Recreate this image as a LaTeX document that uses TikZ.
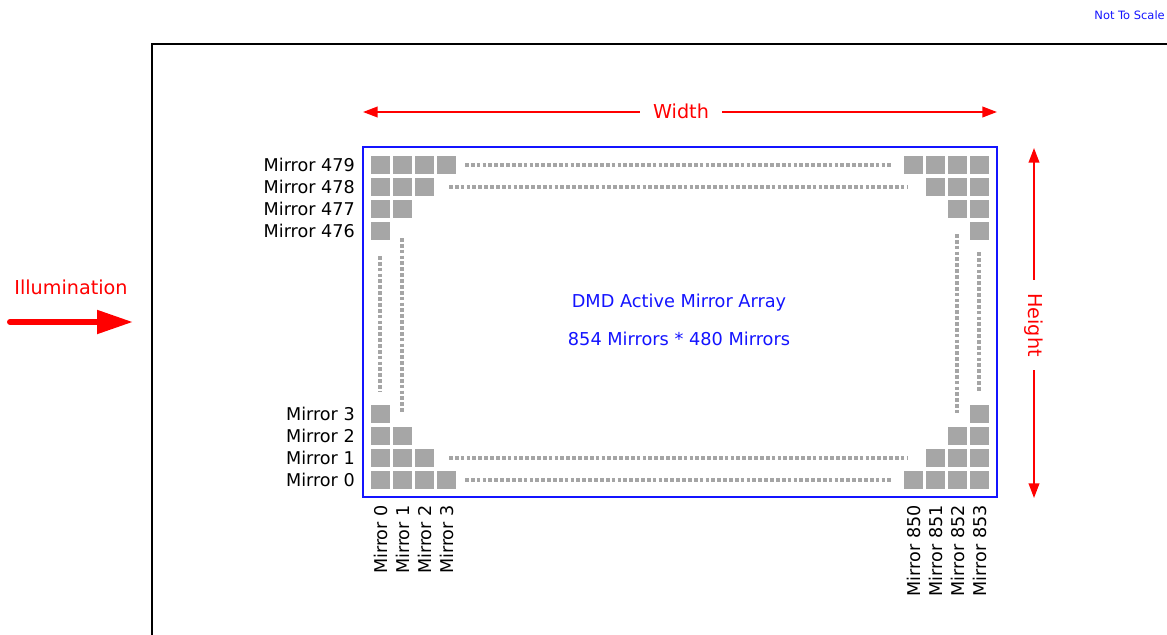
\documentclass[tikz,border=0pt]{standalone}
\usepackage{fontspec}
\setmainfont{DejaVu Sans}
\usetikzlibrary{arrows.meta}
\definecolor{mblue}{RGB}{20,20,255}
\definecolor{mred}{RGB}{255,0,0}
\definecolor{sqgray}{RGB}{166,166,166}
\definecolor{dotgray}{RGB}{165,165,165}
\tikzset{
  sq/.style={fill=sqgray,draw=none,minimum size=14.2pt,inner sep=0pt},
  dotln/.style={draw=dotgray,line width=2.3pt,dash pattern=on 2.8pt off 1.6pt},
  lbl/.style={font=\fontsize{13.2}{15}\selectfont,inner sep=0pt},
  redlbl/.style={font=\fontsize{14.4}{16}\selectfont,text=mred},
  bluelbl/.style={font=\fontsize{13.3}{15}\selectfont,text=mblue},
  dimarrow/.style={draw=mred,line width=1.3pt,-{Triangle[length=11pt,width=8pt]}},
}
\begin{document}
\begin{tikzpicture}[x=0.75pt,y=-0.75pt]
\useasboundingbox (0,0) rectangle (1167,635);
% outer frame
\draw[line width=1.5pt] (152,660) -- (152,44) -- (1190,44);
% not to scale
\node[font=\fontsize{8.6}{10}\selectfont,text=mblue,anchor=east,inner sep=0pt] (nts) at (1165,15) {Not To Scale};
% array frame
\node[draw=mblue,line width=1.6pt,minimum width=475.5pt,minimum height=262.5pt,inner sep=0pt] (arr) at (680,322) {};
% squares
\foreach \i/\n in {0/4,1/3,2/2,3/1}{
  \foreach \c in {1,...,\n}{
    \pgfmathsetmacro{\xl}{380.5+22*(\c-1)}
    \pgfmathsetmacro{\xr}{979.5-22*(\c-1)}
    \pgfmathsetmacro{\yt}{165+22*\i}
    \pgfmathsetmacro{\yb}{480-22*\i}
    \node[sq] (tl\i\c) at (\xl,\yt) {};
    \node[sq] (tr\i\c) at (\xr,\yt) {};
    \node[sq] (bl\i\c) at (\xl,\yb) {};
    \node[sq] (br\i\c) at (\xr,\yb) {};
  }
}
% dotted lines
\draw[dotln] (465,165) -- (893,165);
\draw[dotln] (449,187) -- (908,187);
\draw[dotln] (449,458) -- (908,458);
\draw[dotln] (465,480) -- (893,480);
\draw[dotln] (380,256) -- (380,391);
\draw[dotln] (402,238) -- (402,413);
\draw[dotln] (957,234) -- (957,413);
\draw[dotln] (979,252) -- (979,391);
% left labels
\node[lbl,anchor=east] (m479) at (355,165) {Mirror 479};
\node[lbl,anchor=east] (m478) at (355,187) {Mirror 478};
\node[lbl,anchor=east] (m477) at (355,209) {Mirror 477};
\node[lbl,anchor=east] (m476) at (355,231) {Mirror 476};
\node[lbl,anchor=east] (m3) at (355,414) {Mirror 3};
\node[lbl,anchor=east] (m2) at (355,436) {Mirror 2};
\node[lbl,anchor=east] (m1) at (355,458) {Mirror 1};
\node[lbl,anchor=east] (m0) at (355,480) {Mirror 0};
% bottom labels
\node[lbl,anchor=east,rotate=90] (c0) at (380.5,505) {Mirror 0};
\node[lbl,anchor=east,rotate=90] (c1) at (402.5,505) {Mirror 1};
\node[lbl,anchor=east,rotate=90] (c2) at (424.5,505) {Mirror 2};
\node[lbl,anchor=east,rotate=90] (c3) at (446.5,505) {Mirror 3};
\node[lbl,anchor=east,rotate=90] (c850) at (913.5,505) {Mirror 850};
\node[lbl,anchor=east,rotate=90] (c851) at (935.5,505) {Mirror 851};
\node[lbl,anchor=east,rotate=90] (c852) at (957.5,505) {Mirror 852};
\node[lbl,anchor=east,rotate=90] (c853) at (979.5,505) {Mirror 853};
% center text
\node[bluelbl] (dmd1) at (679,303) {DMD Active Mirror Array};
\node[bluelbl] (dmd2) at (679,339) {854 Mirrors * 480 Mirrors};
% width
\node[redlbl,inner xsep=10pt] (wl) at (681,111) {Width};
\coordinate (wL) at (363,112);
\coordinate (wR) at (997,112);
\draw[dimarrow] (wl.west |- wL) -- (wL);
\draw[dimarrow] (wl.east |- wR) -- (wR);
% height
\node[redlbl,rotate=-90,inner xsep=10pt] (hl) at (1034,325) {Height};
\coordinate (hT) at (1034,148);
\coordinate (hB) at (1034,498);
\draw[dimarrow] (hl.west) -- (hT);
\draw[dimarrow] (hl.east) -- (hB);
% illumination
\node[redlbl] (ill) at (71,287) {Illumination};
\coordinate (iS) at (10,322);
\coordinate (iE) at (133,322);
\draw[draw=mred,line width=4.5pt,line cap=round,-{Triangle[length=27pt,width=17pt]}] (iS) -- (iE);
\end{tikzpicture}
\end{document}
